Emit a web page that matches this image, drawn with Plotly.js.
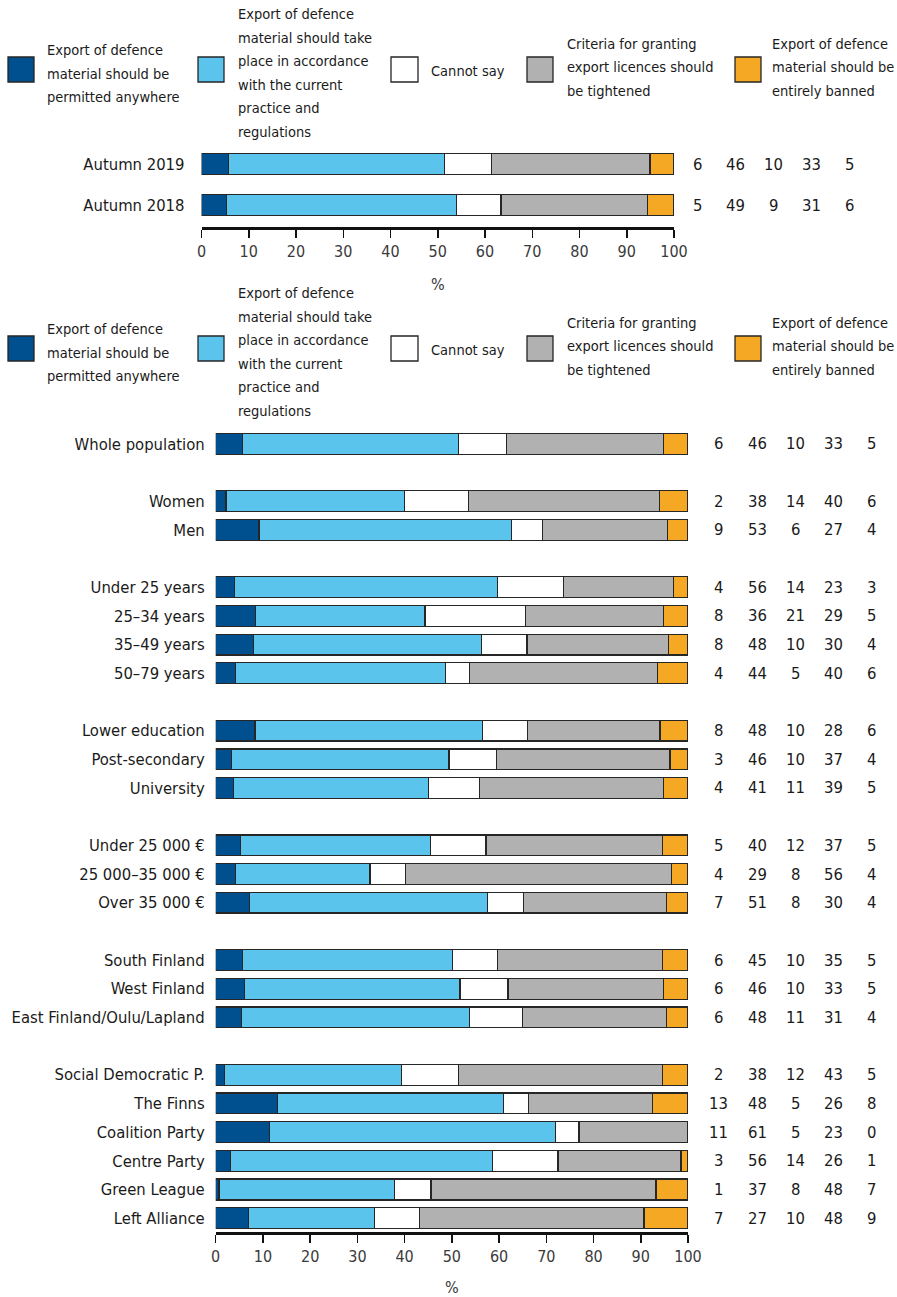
<!DOCTYPE html>
<html>
<head>
<meta charset="utf-8">
<script src="https://cdn.plot.ly/plotly-3.0.1.min.js"></script>
<style>
  html, body { margin: 0; padding: 0; background: #fff; }
  #chart { width: 897px; height: 1297px; }
</style>
</head>
<body>
<div id="chart"></div>
<script>
// ---------- DATA ----------
const seriesNames = [
  'Export of defence material should be permitted anywhere',
  'Export of defence material should take place in accordance with the current practice and regulations',
  'Cannot say',
  'Criteria for granting export licences should be tightened',
  'Export of defence material should be entirely banned'
];
// legend text as it is wrapped in the picture
const legendLines = [
  ['Export of defence', 'material should be', 'permitted anywhere'],
  ['Export of defence', 'material should take', 'place in accordance', 'with the current', 'practice and', 'regulations'],
  ['Cannot say'],
  ['Criteria for granting', 'export licences should', 'be tightened'],
  ['Export of defence', 'material should be', 'entirely banned']
];
const seriesColors = ['#00508f', '#5bc4ec', '#ffffff', '#b0b1b0', '#f5a823'];

// Top panel
const topCategories = ['Autumn 2019', 'Autumn 2018'];
const topPermitted = [5.7, 5.3];
const topCurrent   = [45.7, 48.6];
const topCannotSay = [10.0, 9.5];
const topTightened = [33.5, 31.0];
const topBanned    = [5.1, 5.6];
const topValueLabels = [
  [6, 46, 10, 33, 5],
  [5, 49, 9, 31, 6]
];

// Bottom panel (groups separated by a blank row)
const bottomGroups = [
  ['Whole population'],
  ['Women', 'Men'],
  ['Under 25 years', '25–34 years', '35–49 years', '50–79 years'],
  ['Lower education', 'Post-secondary', 'University'],
  ['Under 25 000 €', '25 000–35 000 €', 'Over 35 000 €'],
  ['South Finland', 'West Finland', 'East Finland/Oulu/Lapland'],
  ['Social Democratic P.', 'The Finns', 'Coalition Party', 'Centre Party', 'Green League', 'Left Alliance']
];
const bottomPermitted = [5.7, 2.2, 9.2, 4.0, 8.4, 8.0, 4.2, 8.3, 3.3, 3.8, 5.3, 4.2, 7.1, 5.6, 6.1, 5.5, 1.8, 13.1, 11.4, 3.1, 0.7, 7.0];
const bottomCurrent   = [45.7, 37.8, 53.5, 55.6, 35.9, 48.3, 44.4, 48.2, 46.1, 41.2, 40.2, 28.5, 50.5, 44.5, 45.6, 48.3, 37.6, 47.9, 60.5, 55.5, 37.1, 26.6];
const bottomCannotSay = [10.1, 13.6, 6.5, 14.1, 21.3, 9.6, 5.2, 9.5, 10.1, 10.8, 11.7, 7.5, 7.5, 9.5, 10.2, 11.1, 12.0, 5.3, 5.0, 13.9, 7.8, 9.6];
const bottomTightened = [33.3, 40.3, 26.5, 23.3, 29.2, 29.9, 39.8, 28.1, 36.7, 39.0, 37.4, 56.3, 30.4, 35.0, 32.9, 30.6, 43.2, 26.2, 23.1, 26.0, 47.6, 47.5];
const bottomBanned    = [5.2, 6.1, 4.3, 3.0, 5.2, 4.2, 6.4, 5.9, 3.8, 5.2, 5.4, 3.5, 4.5, 5.4, 5.2, 4.5, 5.4, 7.5, 0.0, 1.5, 6.8, 9.3];
const bottomValueLabels = [
  [6, 46, 10, 33, 5],
  [2, 38, 14, 40, 6],
  [9, 53, 6, 27, 4],
  [4, 56, 14, 23, 3],
  [8, 36, 21, 29, 5],
  [8, 48, 10, 30, 4],
  [4, 44, 5, 40, 6],
  [8, 48, 10, 28, 6],
  [3, 46, 10, 37, 4],
  [4, 41, 11, 39, 5],
  [5, 40, 12, 37, 5],
  [4, 29, 8, 56, 4],
  [7, 51, 8, 30, 4],
  [6, 45, 10, 35, 5],
  [6, 46, 10, 33, 5],
  [6, 48, 11, 31, 4],
  [2, 38, 12, 43, 5],
  [13, 48, 5, 26, 8],
  [11, 61, 5, 23, 0],
  [3, 56, 14, 26, 1],
  [1, 37, 8, 48, 7],
  [7, 27, 10, 48, 9]
];
const xTicks = [0, 10, 20, 30, 40, 50, 60, 70, 80, 90, 100];

// ---------- LAYOUT HELPERS ----------
const W = 897, H = 1297;
const FONT = '"DejaVu Sans Condensed", "DejaVu Sans", sans-serif';
const px = v => v / W;
const py = v => 1 - v / H;

// bottom row positions with a blank row between groups
const bottomCategories = [];
const bottomPos = [];
let pos = 0;
bottomGroups.forEach((g, gi) => {
  if (gi > 0) pos += 1;
  g.forEach(c => { bottomCategories.push(c); bottomPos.push(pos); pos += 1; });
});
const bottomMax = pos - 1;
const topPos = topCategories.map((c, i) => i);

const topSeries = [topPermitted, topCurrent, topCannotSay, topTightened, topBanned];
const bottomSeries = [bottomPermitted, bottomCurrent, bottomCannotSay, bottomTightened, bottomBanned];

const traces = [];
topSeries.forEach((vals, i) => {
  traces.push({
    type: 'bar', orientation: 'h', x: vals, y: topPos, xaxis: 'x', yaxis: 'y',
    width: 0.51, name: seriesNames[i], showlegend: false, hoverinfo: 'x+name',
    marker: { color: seriesColors[i], line: { color: '#262626', width: 1.3 } }
  });
});
bottomSeries.forEach((vals, i) => {
  traces.push({
    type: 'bar', orientation: 'h', x: vals, y: bottomPos, xaxis: 'x2', yaxis: 'y2',
    width: 0.73, name: seriesNames[i], showlegend: false, hoverinfo: 'x+name',
    marker: { color: seriesColors[i], line: { color: '#262626', width: 1.3 } }
  });
});

const annotations = [];
const shapes = [];

// value columns
const VAL_SIZE = 16.5;
const topCols = [697, 735, 773, 811, 849];
const botCols = [718, 757, 795, 833, 871];
topValueLabels.forEach((row, r) => row.forEach((v, c) => annotations.push({
  xref: 'paper', yref: 'y', x: px(topCols[c]), y: topPos[r], text: String(v),
  showarrow: false, xanchor: 'center', yanchor: 'middle',
  font: { family: FONT, size: VAL_SIZE, color: '#1a1a1a' }
})));
bottomValueLabels.forEach((row, r) => row.forEach((v, c) => annotations.push({
  xref: 'paper', yref: 'y2', x: px(botCols[c]), y: bottomPos[r], text: String(v),
  showarrow: false, xanchor: 'center', yanchor: 'middle',
  font: { family: FONT, size: VAL_SIZE, color: '#1a1a1a' }
})));

// legends (drawn twice)
function addLegend(dy) {
  const sw = [[8, 34], [198, 224], [391, 418], [527, 553], [735, 761]];
  const tx = [45, 236, 429, 565, 770];
  const firstLineY = [50, 14, 71, 43.5, 43.5];
  const lineStep = 23.6;
  sw.forEach((s, i) => {
    shapes.push({
      type: 'rect', xref: 'paper', yref: 'paper',
      x0: px(s[0]), x1: px(s[1]), y0: py(57 + dy), y1: py(82 + dy),
      fillcolor: seriesColors[i], line: { color: '#262626', width: 1.3 }
    });
    legendLines[i].forEach((t, k) => annotations.push({
      xref: 'paper', yref: 'paper', x: px(tx[i]), y: py(firstLineY[i] + k * lineStep + dy),
      text: t, showarrow: false, xanchor: 'left', yanchor: 'middle',
      align: 'left', font: { family: FONT, size: 14.5, color: '#1a1a1a' }
    }));
  });
}
addLegend(0);
addLegend(279);

const axisCommon = {
  range: [0, 100], tickvals: xTicks, ticks: 'outside', ticklen: 8, tickwidth: 1.5,
  tickcolor: '#111', showline: true, linewidth: 2.5, linecolor: '#111',
  showgrid: false, zeroline: false,
  tickfont: { family: FONT, size: 16, color: '#3a3a3a' },
  title: { text: '%', font: { family: FONT, size: 16, color: '#3a3a3a' }, standoff: 19 }
};

const CAT_SIZE = 16.5;
const layout = {
  width: W, height: H,
  margin: { l: 0, r: 0, t: 0, b: 0 },
  paper_bgcolor: '#fff', plot_bgcolor: '#fff',
  barmode: 'stack', showlegend: false,
  font: { family: FONT, size: 16, color: '#1a1a1a' },
  xaxis: Object.assign({}, axisCommon, { domain: [px(201.5), px(674)], anchor: 'y' }),
  yaxis: {
    domain: [py(227.3), py(141.7)], anchor: 'x',
    range: [1.544, -0.544], tickvals: topPos, ticktext: topCategories,
    ticks: '', showline: false, showgrid: false, zeroline: false,
    ticklabelstandoff: 16,
    tickfont: { family: FONT, size: CAT_SIZE, color: '#1a1a1a' }
  },
  xaxis2: Object.assign({}, axisCommon, { domain: [px(215.7), px(688)], anchor: 'y2' }),
  yaxis2: {
    domain: [py(1232.4), py(429.6)], anchor: 'x2',
    range: [bottomMax + 0.5, -0.5], tickvals: bottomPos, ticktext: bottomCategories,
    ticks: '', showline: false, showgrid: false, zeroline: false,
    ticklabelstandoff: 10,
    tickfont: { family: FONT, size: CAT_SIZE, color: '#1a1a1a' }
  },
  annotations: annotations,
  shapes: shapes
};

Plotly.newPlot('chart', traces, layout, { staticPlot: true, displayModeBar: false });
</script>
</body>
</html>
